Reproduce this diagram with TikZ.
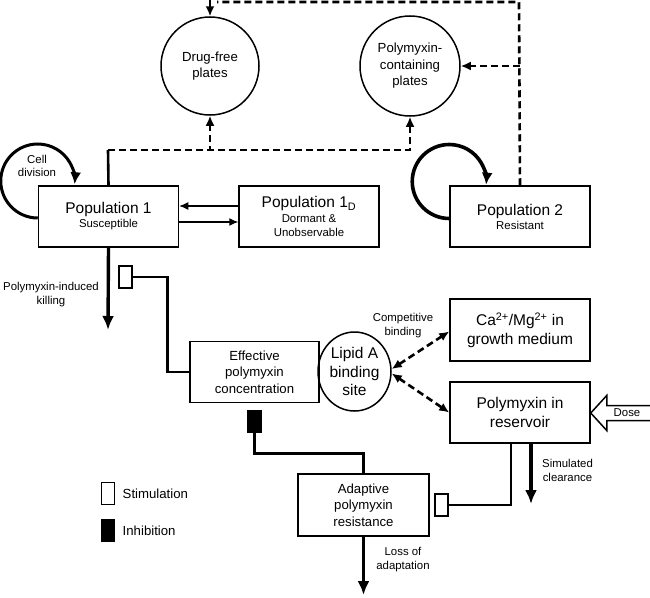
\documentclass[tikz,border=0pt]{standalone}
\usepackage{fontspec}
\setmainfont{Liberation Sans}
\usetikzlibrary{arrows.meta,positioning,shapes.geometric}

\newcommand{\bigfs}{\fontsize{15.5}{18.5}\selectfont}
\newcommand{\midfs}{\fontsize{13.2}{16.5}\selectfont}
\newcommand{\smallfs}{\fontsize{11.4}{14}\selectfont}

\tikzset{
  popbox/.style={draw, line width=1.5pt, minimum width=140pt, minimum height=61pt, align=center, inner sep=1pt},
  plate/.style={draw, circle, line width=1.5pt, minimum size=98pt, inner sep=0pt, align=center, font=\midfs},
  stim/.style={draw, line width=1.4pt, fill=white, minimum width=13pt, minimum height=22pt, inner sep=0pt},
  inhib/.style={stim, fill=black},
  lbl/.style={align=center, font=\smallfs},
  thinarrow/.style={line width=1.2pt, -{Latex[length=9pt,width=8pt]}},
  bigarrow/.style={line width=3.4pt, -{Latex[length=14pt,width=12pt]}},
  dashline/.style={line width=2.6pt, dash pattern=on 7pt off 4pt},
  modline/.style={line width=2.6pt},
  loopline/.style={line width=3pt, -{Latex[length=12pt,width=11pt]}}
}

\begin{document}
\begin{tikzpicture}[x=1pt, y=-1pt]
\useasboundingbox (0,0) rectangle (650,597);

% populations
\node[popbox, font=\smallfs] (p1) at (108.5,216.5) {{\bigfs Population 1}\\Susceptible};
\node[popbox, font=\fontsize{11.4}{14.5}\selectfont] (p1d) at (309,216.5) {{\bigfs Population 1\textsubscript{D}}\\Dormant \&\\Unobservable};
\node[popbox, font=\smallfs] (p2) at (520,216.5) {{\bigfs Population 2}\\Resistant};

% plates
\node[plate] (df) at (210,66) {Drug-free\\plates};
\node[plate, minimum size=100pt] (pc) at (410,66) {Polymyxin-\\containing\\plates};

% drug compartments
\node[popbox, minimum width=129pt, font=\midfs] (eff) at (254.5,372) {Effective\\polymyxin\\concentration};
\node[draw, ellipse, line width=1.5pt, minimum width=73pt, minimum height=79pt, inner sep=0pt, align=center, font=\fontsize{15.5}{18.5}\selectfont] (lip) at (354.5,371.5) {Lipid A\\binding\\site};
\node[popbox, minimum height=62pt, font=\bigfs] (ca) at (520,330) {Ca\textsuperscript{2+}/Mg\textsuperscript{2+} in\\growth medium};
\node[popbox, font=\bigfs] (res) at (520,412.5) {Polymyxin in\\reservoir};
\node[popbox, minimum width=131pt, minimum height=62pt, font=\midfs] (ad) at (363.5,505) {Adaptive\\polymyxin\\resistance};

% exchange between populations
\draw[thinarrow] ([yshift=10.5pt]p1d.west) -- ([yshift=10.5pt]p1.east);
\draw[thinarrow] ([yshift=-5.5pt]p1.east) -- ([yshift=-5.5pt]p1d.west);

% growth loops
\draw[loopline] ([yshift=-1.5pt]p1.west) arc[start angle=90, end angle=365, radius=37];
\draw[loopline, line width=3.6pt] ([yshift=-2pt]p2.west) arc[start angle=90, end angle=365, radius=37];
\node[lbl, font=\fontsize{11.4}{13}\selectfont] (cdiv) at (37,166) {Cell\\division};

% plating
\coordinate (j1) at (108,150);
\draw[modline] (p1.north) -- (j1);
\draw[dashline, -{Latex[length=10pt,width=9pt]}] (j1) -| (df.south);
\draw[dashline, -{Latex[length=10pt,width=9pt]}] (j1) -| (pc.south);
\coordinate (tr) at (519,2);
\coordinate (tl) at (217,2);
\draw[dashline] (p2.north) -- (tr) -- (tl);
\draw[line width=1.8pt, -{Latex[length=10pt,width=9pt]}] (df.north |- 0,-5) -- (df.north);
\draw[dashline, -{Latex[length=10pt,width=9pt]}] (p2.north |- pc.east) -- (pc.east);

% killing
\coordinate (kill) at (108,330);
\draw[bigarrow] (p1.south) -- (kill);
\node[lbl] (killlbl) at (51,295) {Polymyxin-induced\\killing};
\node[stim] (s1) at (125.5,277) {};
\draw[modline] (s1.east) -- ++(34.5,0) |- (eff.west);

% binding
\draw[dashline, {Latex[length=10pt,width=9pt]}-{Latex[length=10pt,width=9pt]}] ([yshift=2.5pt]lip.east) -- ([yshift=-1.5pt]ca.west);
\draw[dashline, {Latex[length=10pt,width=9pt]}-{Latex[length=10pt,width=9pt]}] ([yshift=-2pt]lip.east) -- (res.west);
\node[lbl] (cblbl) at (403,326) {Competitive\\binding};

% dose
\node[font=\smallfs] (dose) at (627,413) {Dose};
\draw[line width=1.5pt] (res.east |- dose) -- ++(16,-17.5) -- ++(0,10) -- ++(50,0) -- ++(0,15) -- ++(-50,0) -- ++(0,10) -- cycle;

% clearance
\coordinate (clr) at (531,504);
\draw[bigarrow] (res.south -| clr) -- (clr);
\node[lbl] (clrlbl) at (567.5,470.5) {Simulated\\clearance};

% adaptation
\node[inhib] (ih) at (254.5,421.5) {};
\draw[modline] (ih.south) -- ++(0,20) -| (ad.north);
\node[stim] (s2) at (441.5,505) {};
\draw[modline] (s2.east) -| ([xshift=-9pt]res.south);
\coordinate (loss) at (363.5,595);
\draw[bigarrow] (ad.south) -- (loss);
\node[lbl] (losslbl) at (403,560) {Loss of\\adaptation};

% legend
\node[stim] (lgs) at (108,493.5) {};
\node[right=4pt of lgs, font=\midfs] (lgstxt) {Stimulation};
\node[inhib] (lgi) at (108,530.5) {};
\node[right=4pt of lgi, font=\midfs] (lgitxt) {Inhibition};
\end{tikzpicture}
\end{document}
